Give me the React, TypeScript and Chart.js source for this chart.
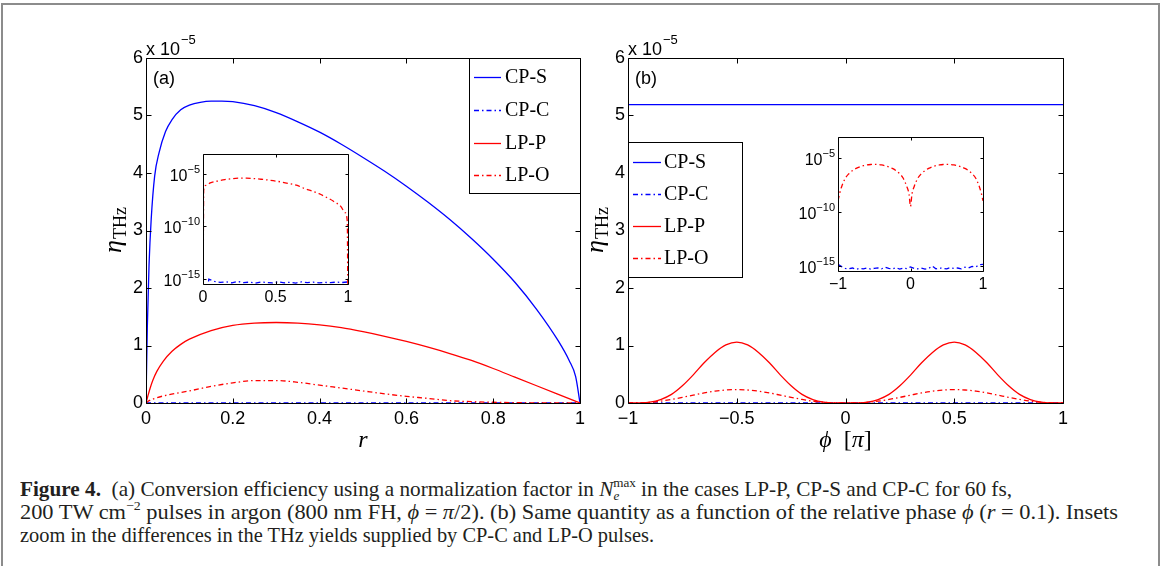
import React, { useEffect, useLayoutEffect, useRef } from "react";
import { Chart, registerables } from "chart.js";

Chart.register(...registerables);

const SANS = "'Liberation Sans', Arial, Helvetica, sans-serif";
const SERIF = "'Liberation Serif', 'Times New Roman', serif";
const BLUE = "#0000ff";
const RED = "#ff0000";
const DASHDOT = [5, 3, 1.5, 3];

// ---------------- data: panel (a), eta in units of 1e-5 ----------------
const seriesLabels = ["CP-S", "CP-C", "LP-P", "LP-O"];

const rCPS = [0, 0.003, 0.007, 0.012, 0.02, 0.03, 0.045, 0.06, 0.08, 0.1, 0.125, 0.15, 0.175, 0.2, 0.25, 0.3, 0.35, 0.4, 0.45, 0.5, 0.55, 0.6, 0.65, 0.7, 0.75, 0.8, 0.85, 0.9, 0.95, 0.975, 0.99, 1];
const etaCPS = [0, 1.3, 2.4, 3.2, 3.95, 4.35, 4.72, 4.93, 5.1, 5.18, 5.23, 5.25, 5.25, 5.24, 5.17, 5.05, 4.89, 4.71, 4.5, 4.27, 4.03, 3.77, 3.49, 3.19, 2.86, 2.5, 2.1, 1.63, 1.08, 0.74, 0.46, 0];

const rLPP = [0, 0.005, 0.01, 0.016, 0.025, 0.04, 0.06, 0.08, 0.1, 0.15, 0.2, 0.25, 0.3, 0.35, 0.4, 0.45, 0.5, 0.55, 0.6, 0.65, 0.7, 0.75, 0.8, 0.85, 0.9, 0.95, 1];
const etaLPP = [0, 0.14, 0.27, 0.4, 0.55, 0.73, 0.9, 1.02, 1.11, 1.26, 1.35, 1.39, 1.4, 1.39, 1.36, 1.31, 1.24, 1.16, 1.07, 0.97, 0.86, 0.74, 0.6, 0.45, 0.3, 0.15, 0];

const rLPO = [0, 0.005, 0.02, 0.05, 0.1, 0.15, 0.2, 0.25, 0.3, 0.35, 0.4, 0.45, 0.5, 0.55, 0.6, 0.65, 0.7, 0.75, 0.8, 0.85, 0.9, 0.95, 0.98, 0.995, 1];
const etaLPO = [0, 0.03, 0.08, 0.14, 0.21, 0.29, 0.35, 0.39, 0.39, 0.36, 0.31, 0.26, 0.21, 0.16, 0.115, 0.08, 0.04, 0.024, 0.013, 0.006, 0.0025, 0.0008, 0.0002, 0.00003, 0];

// CP-C values in units of 1e-15
const rCPC = [0, 0.04, 0.08, 0.12, 0.16, 0.2, 0.24, 0.28, 0.32, 0.36, 0.4, 0.44, 0.48, 0.52, 0.56, 0.6, 0.64, 0.68, 0.72, 0.76, 0.8, 0.84, 0.88, 0.92, 0.96, 1];
const etaCPC = [0, 0.9, 0.55, 0.45, 0.5, 0.4, 0.55, 0.42, 0.48, 0.38, 0.5, 0.44, 0.4, 0.52, 0.41, 0.46, 0.39, 0.5, 0.43, 0.47, 0.4, 0.45, 0.42, 0.48, 0.44, 0.5];

// ---------------- data: panel (b), eta in units of 1e-5 ----------------
const phiB = [-1, -0.98, -0.95, -0.9, -0.85, -0.8, -0.75, -0.7, -0.65, -0.6, -0.55, -0.5, -0.45, -0.4, -0.35, -0.3, -0.25, -0.2, -0.15, -0.1, -0.05, -0.02, 0, 0.02, 0.05, 0.1, 0.15, 0.2, 0.25, 0.3, 0.35, 0.4, 0.45, 0.5, 0.55, 0.6, 0.65, 0.7, 0.75, 0.8, 0.85, 0.9, 0.95, 0.98, 1];
const etaLPPb = [0, 0.0002, 0.002, 0.015, 0.06, 0.15, 0.3, 0.49, 0.7, 0.88, 1.01, 1.06, 1.01, 0.88, 0.7, 0.49, 0.3, 0.15, 0.06, 0.015, 0.002, 0.0002, 0, 0.0002, 0.002, 0.015, 0.06, 0.15, 0.3, 0.49, 0.7, 0.88, 1.01, 1.06, 1.01, 0.88, 0.7, 0.49, 0.3, 0.15, 0.06, 0.015, 0.002, 0.0002, 0];
const etaLPOb = [0.0001, 0.0004, 0.002, 0.012, 0.032, 0.062, 0.098, 0.137, 0.175, 0.206, 0.226, 0.233, 0.226, 0.206, 0.175, 0.137, 0.098, 0.062, 0.032, 0.012, 0.002, 0.0004, 0.00003, 0.0004, 0.002, 0.012, 0.032, 0.062, 0.098, 0.137, 0.175, 0.206, 0.226, 0.233, 0.226, 0.206, 0.175, 0.137, 0.098, 0.062, 0.032, 0.012, 0.002, 0.0004, 0.0001];
const phiCPS = [-1, 1];
const etaCPSb = [5.19, 5.19];
// CP-C values in units of 1e-15
const phiCPC = [-1, -0.95, -0.9, -0.85, -0.8, -0.75, -0.7, -0.65, -0.6, -0.55, -0.5, -0.45, -0.4, -0.35, -0.3, -0.25, -0.2, -0.15, -0.1, -0.05, 0, 0.05, 0.1, 0.15, 0.2, 0.25, 0.3, 0.35, 0.4, 0.45, 0.5, 0.55, 0.6, 0.65, 0.7, 0.75, 0.8, 0.85, 0.9, 0.95, 1];
const etaCPCb = [1.3, 0.8, 0.55, 0.5, 0.6, 0.45, 0.55, 0.5, 0.6, 0.48, 0.55, 0.62, 0.5, 0.7, 0.55, 0.5, 0.65, 0.48, 0.6, 0.52, 0.75, 0.55, 0.5, 0.6, 0.48, 0.55, 0.9, 0.5, 0.6, 0.55, 0.5, 0.65, 0.55, 0.6, 0.5, 0.7, 0.6, 0.85, 0.75, 1.2, 1.3];

// ---------------- ticks ----------------
const yTicksMain = [0, 1, 2, 3, 4, 5, 6];
const xTicksA = [0, 0.2, 0.4, 0.6, 0.8, 1];
const xTicksB = [-1, -0.5, 0, 0.5, 1];
const insetXTicksA = [0, 0.5, 1];
const insetXTicksB = [-1, 0, 1];
const insetYTicks = [1e-15, 1e-10, 1e-5];
const insetYExps = ["\u221215", "\u221210", "\u22125"];
const mainExp = "\u22125";

const UNIT = 1e-5;
const UNIT_C = 1e-15;

type Box = { left: number; top: number; width: number; height: number };
type Area = { left: number; top: number; right: number; bottom: number };

const BOX_A: Box = { left: 80, top: 20, width: 520, height: 450 };
const AREA_A: Area = { left: 146, top: 58, right: 580, bottom: 403 };
const BOX_B: Box = { left: 580, top: 20, width: 520, height: 450 };
const AREA_B: Area = { left: 628, top: 58, right: 1063, bottom: 403 };
const BOX_IA: Box = { left: 150, top: 140, width: 210, height: 170 };
const AREA_IA: Area = { left: 203, top: 154, right: 348, bottom: 284 };
const BOX_IB: Box = { left: 785, top: 125, width: 210, height: 170 };
const AREA_IB: Area = { left: 838, top: 137, right: 983, bottom: 271 };

const zip = (xs: number[], ys: number[]) => xs.map((x, i) => ({ x, y: ys[i] }));
const logSafe = (v: number) => (v > 0 ? v : 1e-20);
const fmt = (v: number) => (v < 0 ? "\u2212" + String(+(-v).toFixed(2)) : String(+v.toFixed(2)));

function axis(kind: "x" | "y", type: string, min: number, max: number, ticks: number[], size: number, fontSize: number, pad: number, showLabels = true) {
  return {
    type,
    min,
    max,
    grid: { display: false, drawTicks: false },
    border: { display: false },
    ticks: {
      display: showLabels,
      font: { family: SANS, size: fontSize },
      color: "#000",
      padding: pad,
      maxRotation: 0,
      autoSkip: false,
      callback: (v: any) => fmt(Number(v)),
    },
    afterBuildTicks: (s: any) => {
      s.ticks = ticks.map((v) => ({ value: v }));
    },
    afterFit: (s: any) => {
      if (kind === "x") s.height = size;
      else s.width = size;
    },
  };
}

function baseOptions(box: Box, area: Area) {
  return {
    animation: false,
    responsive: false,
    events: [],
    layout: { padding: { left: 0, top: area.top - box.top, right: box.left + box.width - area.right, bottom: 0 } },
    plugins: { legend: { display: false }, tooltip: { enabled: false } },
    elements: { point: { radius: 0 }, line: { borderWidth: 1.3 } },
  };
}

function framePlugin(tickLen: number, whiteBg: boolean) {
  return {
    id: "frame",
    beforeDatasetsDraw(chart: any) {
      if (!whiteBg) return;
      const { ctx, chartArea: a } = chart;
      ctx.save();
      ctx.fillStyle = "#fff";
      ctx.fillRect(a.left, a.top, a.right - a.left, a.bottom - a.top);
      ctx.restore();
    },
    afterDatasetsDraw(chart: any) {
      const { ctx, chartArea: a, scales } = chart;
      const px = (v: number) => Math.round(v) + 0.5;
      ctx.save();
      ctx.strokeStyle = "#000";
      ctx.lineWidth = 1;
      ctx.setLineDash([]);
      ctx.beginPath();
      const L = px(a.left), R = px(a.right), T = px(a.top), B = px(a.bottom);
      scales.x.ticks.forEach((t: any) => {
        const p = px(scales.x.getPixelForValue(t.value));
        ctx.moveTo(p, B); ctx.lineTo(p, B - tickLen);
        ctx.moveTo(p, T); ctx.lineTo(p, T + tickLen);
      });
      scales.y.ticks.forEach((t: any) => {
        const p = px(scales.y.getPixelForValue(t.value));
        ctx.moveTo(L, p); ctx.lineTo(L + tickLen, p);
        ctx.moveTo(R, p); ctx.lineTo(R - tickLen, p);
      });
      ctx.rect(L, T, R - L, B - T);
      ctx.stroke();
      ctx.restore();
    },
  };
}

function legendPlugin(box: Box, page: { x: number; y: number; w: number; h: number; rows: number[]; lx0: number; lx1: number; tx: number }) {
  return {
    id: "boxLegend",
    afterDraw(chart: any) {
      const ctx = chart.ctx;
      const ox = box.left, oy = box.top;
      ctx.save();
      ctx.fillStyle = "#fff";
      ctx.fillRect(page.x - ox, page.y - oy, page.w, page.h);
      ctx.strokeStyle = "#000";
      ctx.lineWidth = 1;
      ctx.strokeRect(page.x - ox + 0.5, page.y - oy + 0.5, page.w, page.h);
      chart.data.datasets.forEach((ds: any, i: number) => {
        const y = page.rows[i] - oy;
        ctx.strokeStyle = ds.borderColor;
        ctx.lineWidth = 1.3;
        ctx.setLineDash(ds.borderDash || []);
        ctx.beginPath();
        ctx.moveTo(page.lx0 - ox, y + 0.5);
        ctx.lineTo(page.lx1 - ox, y + 0.5);
        ctx.stroke();
        ctx.setLineDash([]);
        ctx.fillStyle = "#000";
        ctx.font = `20px ${SERIF}`;
        ctx.textBaseline = "middle";
        ctx.textAlign = "left";
        ctx.fillText(ds.label, page.tx - ox, y + 1);
      });
      ctx.restore();
    },
  };
}

function notesPlugin(tag: string, xTitle: "r" | "phi") {
  return {
    id: "notes",
    afterDraw(chart: any) {
      const { ctx, chartArea: a } = chart;
      ctx.save();
      ctx.fillStyle = "#000";
      ctx.textBaseline = "alphabetic";
      ctx.textAlign = "left";
      ctx.font = `18px ${SANS}`;
      ctx.fillText("x 10", a.left, a.top - 3);
      const w = ctx.measureText("x 10").width;
      ctx.font = `13px ${SANS}`;
      ctx.fillText(mainExp, a.left + w + 1, a.top - 14);
      ctx.font = `18px ${SANS}`;
      ctx.fillText(tag, a.left + 7, a.top + 26);

      // y title: eta_THz
      ctx.save();
      ctx.translate(a.left - 25, (a.top + a.bottom) / 2);
      ctx.rotate(-Math.PI / 2);
      ctx.font = `italic 26px ${SERIF}`;
      const we = ctx.measureText("\u03b7").width;
      ctx.font = `18px ${SERIF}`;
      const wt = ctx.measureText("THz").width;
      const x0 = -(we + wt) / 2;
      ctx.font = `italic 26px ${SERIF}`;
      ctx.fillText("\u03b7", x0, 0);
      ctx.font = `18px ${SERIF}`;
      ctx.fillText("THz", x0 + we + 1, 5);
      ctx.restore();

      // x title
      const cx = (a.left + a.right) / 2;
      const by = a.bottom + 44;
      if (xTitle === "r") {
        ctx.font = `italic 24px ${SERIF}`;
        ctx.textAlign = "center";
        ctx.fillText("r", cx, by);
      } else {
        const parts: [string, string][] = [
          ["\u03d5", `italic 24px ${SERIF}`],
          ["  [", `24px ${SERIF}`],
          ["\u03c0", `italic 24px ${SERIF}`],
          ["]", `24px ${SERIF}`],
        ];
        let total = 0;
        parts.forEach(([t, f]) => { ctx.font = f; total += ctx.measureText(t).width; });
        let x = cx - total / 2;
        parts.forEach(([t, f]) => { ctx.font = f; ctx.fillText(t, x, by); x += ctx.measureText(t).width; });
      }
      ctx.restore();
    },
  };
}

function logLabelsPlugin() {
  return {
    id: "logLabels",
    afterDraw(chart: any) {
      const { ctx, chartArea: a, scales } = chart;
      ctx.save();
      ctx.fillStyle = "#000";
      ctx.textAlign = "right";
      ctx.textBaseline = "alphabetic";
      insetYTicks.forEach((v, i) => {
        const p = scales.y.getPixelForValue(v);
        const xr = a.left - 3;
        ctx.font = `11px ${SANS}`;
        const ws = ctx.measureText(insetYExps[i]).width;
        ctx.fillText(insetYExps[i], xr, p - 1);
        ctx.font = `16px ${SANS}`;
        ctx.fillText("10", xr - ws, p + 7);
      });
      ctx.restore();
    },
  };
}

function line(label: string, data: any[], color: string, dashed: boolean, order: number, smooth = true) {
  return {
    label,
    data,
    borderColor: color,
    backgroundColor: color,
    borderDash: dashed ? DASHDOT : [],
    borderWidth: 1.3,
    fill: false,
    order,
    cubicInterpolationMode: smooth ? "monotone" : "default",
    tension: 0,
  };
}

function buildMainA(canvas: HTMLCanvasElement) {
  const cfg: any = {
    type: "line",
    data: {
      datasets: [
        line(seriesLabels[0], zip(rCPS, etaCPS), BLUE, false, 4),
        line(seriesLabels[1], zip(rCPC, etaCPC.map((v) => (v * UNIT_C) / UNIT)), BLUE, true, 3, false),
        line(seriesLabels[2], zip(rLPP, etaLPP), RED, false, 2),
        line(seriesLabels[3], zip(rLPO, etaLPO), RED, true, 1),
      ],
    },
    options: {
      ...baseOptions(BOX_A, AREA_A),
      scales: {
        x: axis("x", "linear", 0, 1, xTicksA, BOX_A.top + BOX_A.height - AREA_A.bottom, 18, 5),
        y: axis("y", "linear", 0, 6, yTicksMain, AREA_A.left - BOX_A.left, 18, 3),
      },
    },
    plugins: [
      framePlugin(5, false),
      notesPlugin("(a)", "r"),
      legendPlugin(BOX_A, { x: 469, y: 58, w: 111, h: 135, rows: [77, 110, 143, 175], lx0: 474, lx1: 501, tx: 505 }),
    ],
  };
  return new Chart(canvas, cfg);
}

function buildMainB(canvas: HTMLCanvasElement) {
  const cfg: any = {
    type: "line",
    data: {
      datasets: [
        line(seriesLabels[0], zip(phiCPS, etaCPSb), BLUE, false, 4, false),
        line(seriesLabels[1], zip(phiCPC, etaCPCb.map((v) => (v * UNIT_C) / UNIT)), BLUE, true, 3, false),
        line(seriesLabels[2], zip(phiB, etaLPPb), RED, false, 2),
        line(seriesLabels[3], zip(phiB, etaLPOb), RED, true, 1),
      ],
    },
    options: {
      ...baseOptions(BOX_B, AREA_B),
      scales: {
        x: axis("x", "linear", -1, 1, xTicksB, BOX_B.top + BOX_B.height - AREA_B.bottom, 18, 5),
        y: axis("y", "linear", 0, 6, yTicksMain, AREA_B.left - BOX_B.left, 18, 3),
      },
    },
    plugins: [
      framePlugin(5, false),
      notesPlugin("(b)", "phi"),
      legendPlugin(BOX_B, { x: 628, y: 142, w: 114, h: 135, rows: [162, 194, 226, 258], lx0: 633, lx1: 661, tx: 664 }),
    ],
  };
  return new Chart(canvas, cfg);
}

function buildInset(canvas: HTMLCanvasElement, box: Box, area: Area, xs: number[], xMin: number, xMax: number, cpcX: number[], cpcY: number[], lpoX: number[], lpoY: number[]) {
  const cfg: any = {
    type: "line",
    data: {
      datasets: [
        line(seriesLabels[1], zip(cpcX, cpcY.map((v) => logSafe(v * UNIT_C))), BLUE, true, 2, false),
        line(seriesLabels[3], zip(lpoX, lpoY.map((v) => logSafe(v * UNIT))), RED, true, 1),
      ],
    },
    options: {
      ...baseOptions(box, area),
      scales: {
        x: axis("x", "linear", xMin, xMax, xs, box.top + box.height - area.bottom, 16, 4),
        y: axis("y", "logarithmic", Math.pow(10, -15.5), Math.pow(10, -3.1), insetYTicks, area.left - box.left, 16, 3, false),
      },
    },
    plugins: [framePlugin(3, true), logLabelsPlugin()],
  };
  return new Chart(canvas, cfg);
}

function ChartCanvas({ box, build }: { box: Box; build: (c: HTMLCanvasElement) => Chart }) {
  const ref = useRef<HTMLCanvasElement>(null);
  useEffect(() => {
    const chart = build(ref.current as HTMLCanvasElement);
    return () => chart.destroy();
  }, []);
  return (
    <canvas
      ref={ref}
      width={box.width}
      height={box.height}
      style={{ position: "absolute", left: box.left, top: box.top, width: box.width, height: box.height }}
    />
  );
}

const CAPTION_FONT = 21;
const captionWidths = [992, 1098, 634];
const captionTops = [479, 502, 525];

function Caption() {
  const r0 = useRef<HTMLDivElement>(null);
  const r1 = useRef<HTMLDivElement>(null);
  const r2 = useRef<HTMLDivElement>(null);
  useLayoutEffect(() => {
    const els = [r0.current, r1.current, r2.current];
    els.forEach((el, i) => {
      if (!el) return;
      el.style.transform = "none";
      const w = el.getBoundingClientRect().width;
      if (w > 0) el.style.transform = `scaleX(${captionWidths[i] / w})`;
    });
  }, []);
  const lineStyle = (i: number): React.CSSProperties => ({
    position: "absolute",
    left: 20,
    top: captionTops[i],
    whiteSpace: "nowrap",
    fontFamily: SERIF,
    fontSize: CAPTION_FONT,
    lineHeight: `${CAPTION_FONT}px`,
    color: "#231f20",
    transformOrigin: "0 0",
  });
  const sup: React.CSSProperties = { fontSize: 13, position: "relative", top: -9 };
  const sub: React.CSSProperties = { fontSize: 13, position: "relative", top: 4 };
  return (
    <>
      <div ref={r0} style={lineStyle(0)}>
        <b>Figure 4.</b>
        {"\u2002(a) Conversion efficiency using a normalization factor in "}
        <i>N</i>
        <i style={sub}>e</i>
        <span style={{ ...sup, marginLeft: -6 }}>max</span>
        {" in the cases LP-P, CP-S and CP-C for 60 fs,"}
      </div>
      <div ref={r1} style={lineStyle(1)}>
        {"200 TW cm"}
        <span style={sup}>{"\u22122"}</span>
        {" pulses in argon (800 nm FH, "}
        <i>{"\u03d5"}</i>
        {" = "}
        <i>{"\u03c0"}</i>
        {"/2). (b) Same quantity as a function of the relative phase "}
        <i>{"\u03d5"}</i>
        {" ("}
        <i>r</i>
        {" = 0.1). Insets"}
      </div>
      <div ref={r2} style={lineStyle(2)}>
        {"zoom in the differences in the THz yields supplied by CP-C and LP-O pulses."}
      </div>
    </>
  );
}

export default function App() {
  useEffect(() => {
    document.body.style.margin = "0";
  }, []);
  return (
    <div style={{ position: "absolute", left: 0, top: 0, width: 1163, height: 566, background: "#fff", overflow: "hidden" }}>
      <div
        style={{
          position: "absolute",
          left: 1,
          top: 3,
          width: 1159,
          height: 620,
          boxSizing: "border-box",
          borderLeft: "2px solid #8c8c8c",
          borderTop: "2px solid #8c8c8c",
          borderRight: "2px solid #8c8c8c",
        }}
      />
      <ChartCanvas box={BOX_A} build={buildMainA} />
      <ChartCanvas box={BOX_B} build={buildMainB} />
      <ChartCanvas
        box={BOX_IA}
        build={(c) => buildInset(c, BOX_IA, AREA_IA, insetXTicksA, 0, 1, rCPC, etaCPC, rLPO, etaLPO)}
      />
      <ChartCanvas
        box={BOX_IB}
        build={(c) => buildInset(c, BOX_IB, AREA_IB, insetXTicksB, -1, 1, phiCPC, etaCPCb, phiB, etaLPOb)}
      />
      <Caption />
    </div>
  );
}
